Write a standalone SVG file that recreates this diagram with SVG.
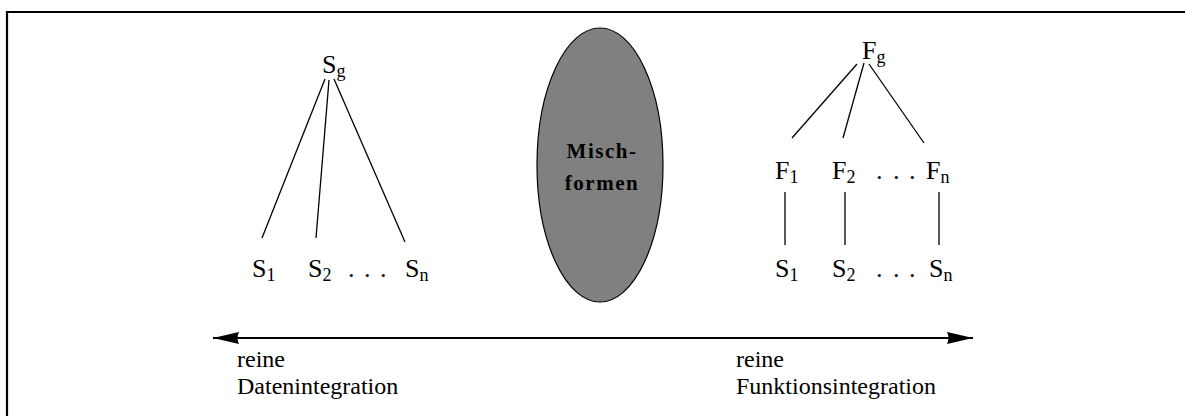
<svg xmlns="http://www.w3.org/2000/svg" width="1185" height="416" viewBox="0 0 1185 416">
  <defs>
    <style>
      .lbl { font-family: "Liberation Serif", "Times New Roman", serif; font-size: 24px; fill: #000; }
      .node { font-family: "Liberation Serif", "Times New Roman", serif; font-size: 26px; fill: #000; }
      .sub { font-size: 18px; }
      .edge { stroke: #000; stroke-width: 1.3; fill: none; }
      .bar { stroke: #000; stroke-width: 2; fill: none; }
      .bold { font-family: "Liberation Serif", "Times New Roman", serif; font-size: 21px; font-weight: bold; letter-spacing: 1.5px; fill: #000; }
    </style>
    <marker id="head" viewBox="0 0 26 12" refX="26" refY="6" markerWidth="26" markerHeight="12" markerUnits="userSpaceOnUse" orient="auto-start-reverse">
      <path d="M0,0 L26,6 L0,12 Q3,6 0,0 Z" fill="#000"/>
    </marker>
  </defs>

  <rect width="1185" height="416" fill="#fff"/>

  <!-- frame: top and left border only -->
  <path d="M7,416 V12 H1185" stroke="#000" stroke-width="2.2" fill="none"/>

  <!-- connectors -->
  <g id="connectors">
    <line class="edge" x1="325" y1="79" x2="262" y2="238"/>
    <line class="edge" x1="329" y1="80" x2="316" y2="238"/>
    <line class="edge" x1="334" y1="79" x2="405" y2="242"/>
    <line class="edge" x1="857" y1="64" x2="792" y2="138"/>
    <line class="edge" x1="864" y1="63" x2="843" y2="138"/>
    <line class="edge" x1="869" y1="64" x2="924" y2="143"/>
    <line class="edge" x1="785" y1="192" x2="785" y2="245"/>
    <line class="edge" x1="845" y1="192" x2="845" y2="245"/>
    <line class="edge" x1="939" y1="192" x2="939" y2="245"/>
    <line class="bar" x1="213" y1="338" x2="973" y2="338" marker-start="url(#head)" marker-end="url(#head)"/>
  </g>

  <!-- left tree: data integration -->
  <g id="node-Sg"><text class="node" x="322" y="73">S<tspan class="sub" dy="4">g</tspan></text></g>
  <g id="node-S1-left"><text class="node" x="252" y="277">S<tspan class="sub" dy="4">1</tspan></text></g>
  <g id="node-S2-left"><text class="node" x="308" y="277">S<tspan class="sub" dy="4">2</tspan></text></g>
  <g id="node-dots-left"><text class="node" x="348 364 380" y="277">...</text></g>
  <g id="node-Sn-left"><text class="node" x="405" y="277">S<tspan class="sub" dy="4">n</tspan></text></g>

  <!-- mixed forms -->
  <g id="node-mischformen">
    <ellipse cx="600" cy="165" rx="63" ry="137" fill="#808080" stroke="#000" stroke-width="1.2"/>
    <text class="bold" x="602" y="158" text-anchor="middle">Misch-</text>
    <text class="bold" x="602" y="190" text-anchor="middle">formen</text>
  </g>

  <!-- right tree: function integration -->
  <g id="node-Fg"><text class="node" x="862" y="59">F<tspan class="sub" dy="4">g</tspan></text></g>
  <g id="node-F1"><text class="node" x="775" y="179">F<tspan class="sub" dy="4">1</tspan></text></g>
  <g id="node-F2"><text class="node" x="832" y="179">F<tspan class="sub" dy="4">2</tspan></text></g>
  <g id="node-dots-F"><text class="node" x="876 893 909" y="179">...</text></g>
  <g id="node-Fn"><text class="node" x="926" y="179">F<tspan class="sub" dy="4">n</tspan></text></g>
  <g id="node-S1-right"><text class="node" x="775" y="277">S<tspan class="sub" dy="4">1</tspan></text></g>
  <g id="node-S2-right"><text class="node" x="832" y="277">S<tspan class="sub" dy="4">2</tspan></text></g>
  <g id="node-dots-right"><text class="node" x="876 893 909" y="277">...</text></g>
  <g id="node-Sn-right"><text class="node" x="929" y="277">S<tspan class="sub" dy="4">n</tspan></text></g>

  <!-- axis labels -->
  <g id="label-data">
    <text class="lbl" x="237" y="367">reine</text>
    <text class="lbl" x="237" y="394">Datenintegration</text>
  </g>
  <g id="label-function">
    <text class="lbl" x="736" y="367">reine</text>
    <text class="lbl" x="736" y="394">Funktionsintegration</text>
  </g>
</svg>
